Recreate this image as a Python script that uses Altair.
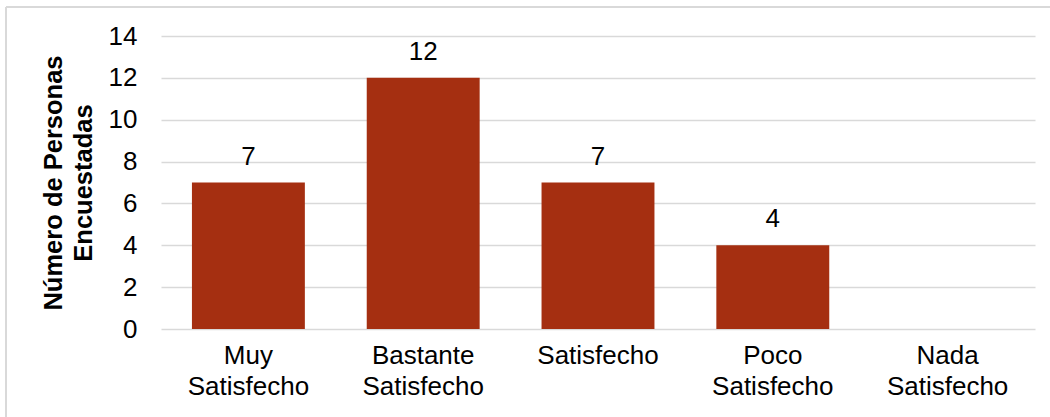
import altair as alt
import pandas as pd

categorias = ["Muy Satisfecho", "Bastante Satisfecho", "Satisfecho", "Poco Satisfecho", "Nada Satisfecho"]
personas = [7, 12, 7, 4, 0]
marcas_y = [0, 2, 4, 6, 8, 10, 12, 14]

df = pd.DataFrame({"categoria": categorias, "personas": personas})

FUENTE = "Liberation Sans"
COLOR_BARRA = "#A52F11"
COLOR_REJILLA = "#D9D9D9"

base = alt.Chart(df).encode(
    x=alt.X(
        "categoria:N",
        sort=categorias,
        title=None,
        scale=alt.Scale(paddingInner=0.354, paddingOuter=0.177),
        axis=alt.Axis(
            labelAngle=0,
            labelExpr="split(datum.label, ' ')",
            labelFont=FUENTE,
            labelFontSize=26,
            labelColor="#000000",
            labelLineHeight=31,
            labelPadding=13,
            ticks=False,
            domain=False,
            grid=False,
        ),
    ),
    y=alt.Y(
        "personas:Q",
        scale=alt.Scale(domain=[0, 14], nice=False),
        title=["Número de Personas", "Encuestadas"],
        axis=alt.Axis(
            values=marcas_y,
            labelFont=FUENTE,
            labelFontSize=26,
            labelColor="#000000",
            labelPadding=24,
            ticks=False,
            domain=False,
            grid=True,
            gridColor=COLOR_REJILLA,
            gridWidth=1.5,
            titleFont=FUENTE,
            titleFontSize=25.5,
            titleFontWeight="bold",
            titleColor="#000000",
            titleLineHeight=30,
            titlePadding=12,
        ),
    ),
)

barras = base.mark_bar(color=COLOR_BARRA)

etiquetas = base.transform_filter("datum.personas > 0").mark_text(
    font=FUENTE, fontSize=26, color="#000000", baseline="middle", dy=-26
).encode(text="personas:Q")

# light frame along the top and left edges of the chart
marco_sup = alt.Chart(df).mark_rule(color=COLOR_REJILLA, strokeWidth=2, clip=False).encode(
    x=alt.value(-155), x2=alt.value(900), y=alt.value(-29)
)
marco_izq = alt.Chart(df).mark_rule(color=COLOR_REJILLA, strokeWidth=2, clip=False).encode(
    x=alt.value(-155), y=alt.value(-29), y2=alt.value(400)
)

chart = (
    alt.layer(marco_sup, marco_izq, barras, etiquetas)
    .properties(
        width=874,
        height=293,
        autosize="none",
        padding={"left": 161, "top": 36, "right": 15, "bottom": 88},
        background="#FFFFFF",
    )
    .configure_view(stroke=None)
)

chart.save("out.html", embed_options={"renderer": "svg", "actions": False})
